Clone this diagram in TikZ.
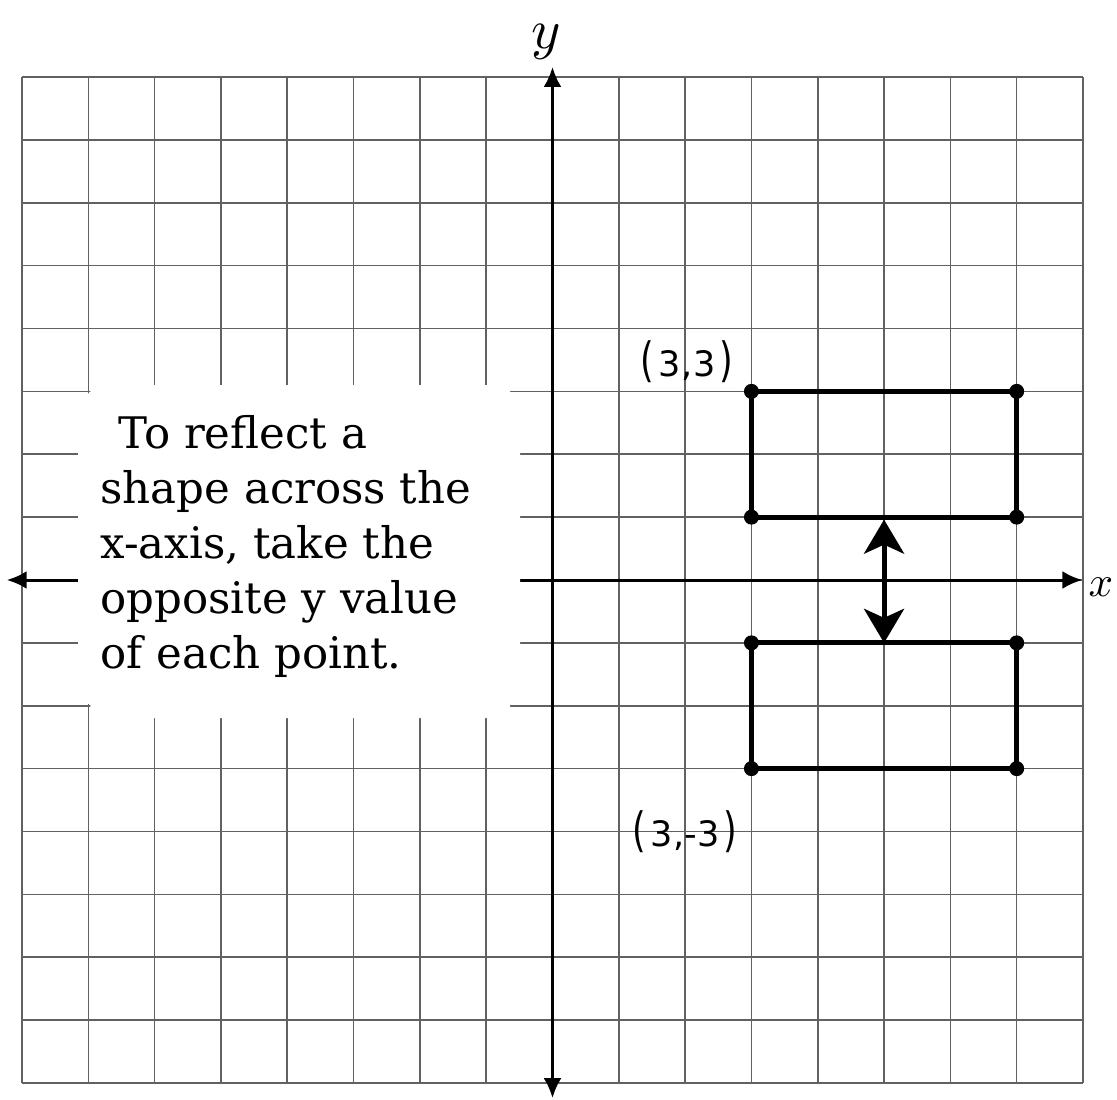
\documentclass[tikz,border=0pt]{standalone}
\usepackage{fontspec}
\usepackage{graphicx}
\setmainfont{DejaVu Serif}
\newfontfamily\labelfont{DejaVu Sans}
\usetikzlibrary{arrows.meta}
\newcommand{\bigpar}[1]{\scalebox{1}[1.35]{#1}}
\begin{document}
\begin{tikzpicture}[x=66.3125pt, y=62.875pt,
  gridline/.style={line width=1.6pt, draw=black!62},
  axisline/.style={line width=3pt, draw=black,
    arrows={Latex[length=20pt,width=18pt]-Latex[length=20pt,width=18pt]}},
  shapeline/.style={line width=4.8pt, draw=black, line join=round},
  vertex/.style={circle, fill=black, inner sep=0pt, minimum size=15pt},
  coordlabel/.style={font=\labelfont\fontsize{35}{35}\selectfont, inner sep=0pt},
  notetext/.style={align=left, inner sep=0pt, font=\fontsize{43.5}{55}\selectfont, anchor=north west},
  axislabel/.style={inner sep=0pt},
  flip/.style={line width=5pt, draw=black,
    arrows={Stealth[length=34pt,width=40pt,inset=9pt]-Stealth[length=34pt,width=40pt,inset=9pt]}},
]
\useasboundingbox[fill=white] (-8.3318,-8.2545) rectangle (8.5127,9.2247);
% grid
\foreach \i in {-8,...,8} {
  \draw[gridline] (\i,-8) -- (\i,8);
  \draw[gridline] (-8,\i) -- (8,\i);
}
% axes
\coordinate (xl) at (-8.23,0);
\coordinate (xr) at (7.99,0);
\coordinate (yt) at (0,8.16);
\coordinate (yb) at (0,-8.24);
\draw[axisline] (xl) -- (xr);
\draw[axisline] (yb) -- (yt);
\node[axislabel] (ylab) at (-0.10,8.56) {\scalebox{5.6}{$y$}};
\node[axislabel] (xlab) at (8.27,-0.12) {\scalebox{4.3}{$x$}};
% white note area
\fill[white] (-6.97,3.10) -- (-0.64,3.10) -- (-0.64,2.9) -- (-0.49,2.9) -- (-0.49,-1.9)
  -- (-0.64,-1.9) -- (-0.64,-2.195) -- (-6.97,-2.195) -- (-6.97,-1.97) -- (-7.155,-1.97)
  -- (-7.155,2.97) -- (-6.97,2.97) -- cycle;
\node[notetext] (note) at (-6.82,2.62) {\hspace*{18pt}To reflect a\\shape across the\\x-axis, take the\\opposite y value\\of each point.};
% shapes
\coordinate (A) at (3,3);
\coordinate (B) at (7,3);
\coordinate (C) at (7,1);
\coordinate (D) at (3,1);
\coordinate (E) at (3,-1);
\coordinate (F) at (7,-1);
\coordinate (G) at (7,-3);
\coordinate (H) at (3,-3);
\draw[shapeline] (A) -- (B) -- (C) -- (D) -- cycle;
\draw[shapeline] (E) -- (F) -- (G) -- (H) -- cycle;
\foreach \p in {A,B,C,D,E,F,G,H} { \node[vertex] (v\p) at (\p) {}; }
\coordinate (m1) at (5,0.96);
\coordinate (m2) at (5,-1.0);
\draw[flip] (m1) -- (m2);
\node[coordlabel] (labA) at (2.03,3.47) {\bigpar{(}\kern4pt3\kern1pt,\kern1pt3\kern4pt\bigpar{)}};
\node[coordlabel] (labH) at (2.0,-4.0) {\bigpar{(}\kern4pt3\kern1pt,-3\kern4pt\bigpar{)}};
\end{tikzpicture}
\end{document}
